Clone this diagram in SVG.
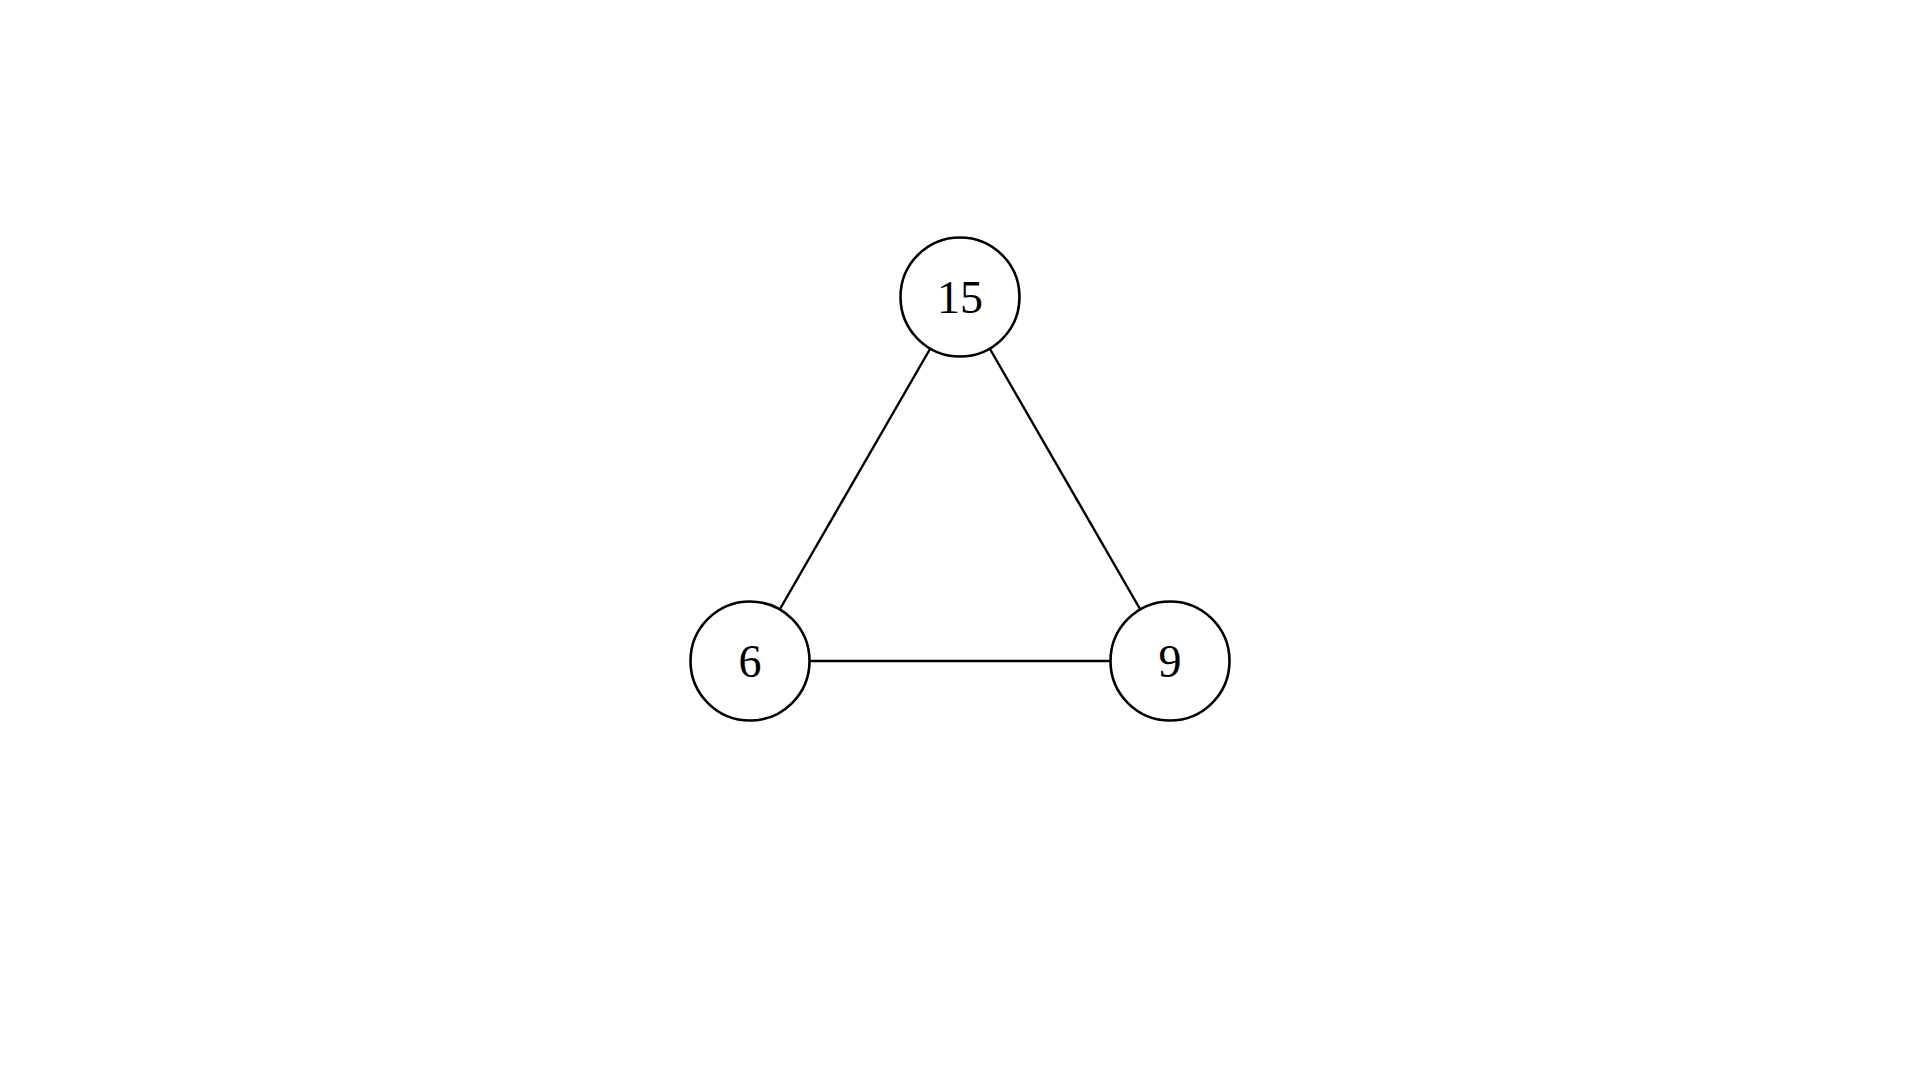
<svg xmlns="http://www.w3.org/2000/svg" width="1920" height="1080" viewBox="0 0 1920 1080">
<style>
.node circle{fill:#fff;stroke:#000;stroke-width:2.6}
.node text{font-family:"Liberation Serif","DejaVu Serif",serif;font-size:46px;fill:#000;text-anchor:middle}
#edges line{stroke:#000;stroke-width:2.4}
</style>
<rect width="1920" height="1080" fill="#fff"/>
<g id="edges">
<line x1="930" y1="349" x2="780" y2="609"/>
<line x1="990" y1="349" x2="1140" y2="609"/>
<line x1="810" y1="661" x2="1110" y2="661"/>
</g>
<g id="n15" class="node"><circle cx="960" cy="297" r="59.5"/><text x="960" y="313">15</text></g>
<g id="n6" class="node"><circle cx="750" cy="661" r="59.5"/><text x="750" y="677">6</text></g>
<g id="n9" class="node"><circle cx="1170" cy="661" r="59.5"/><text x="1170" y="677">9</text></g>
</svg>
